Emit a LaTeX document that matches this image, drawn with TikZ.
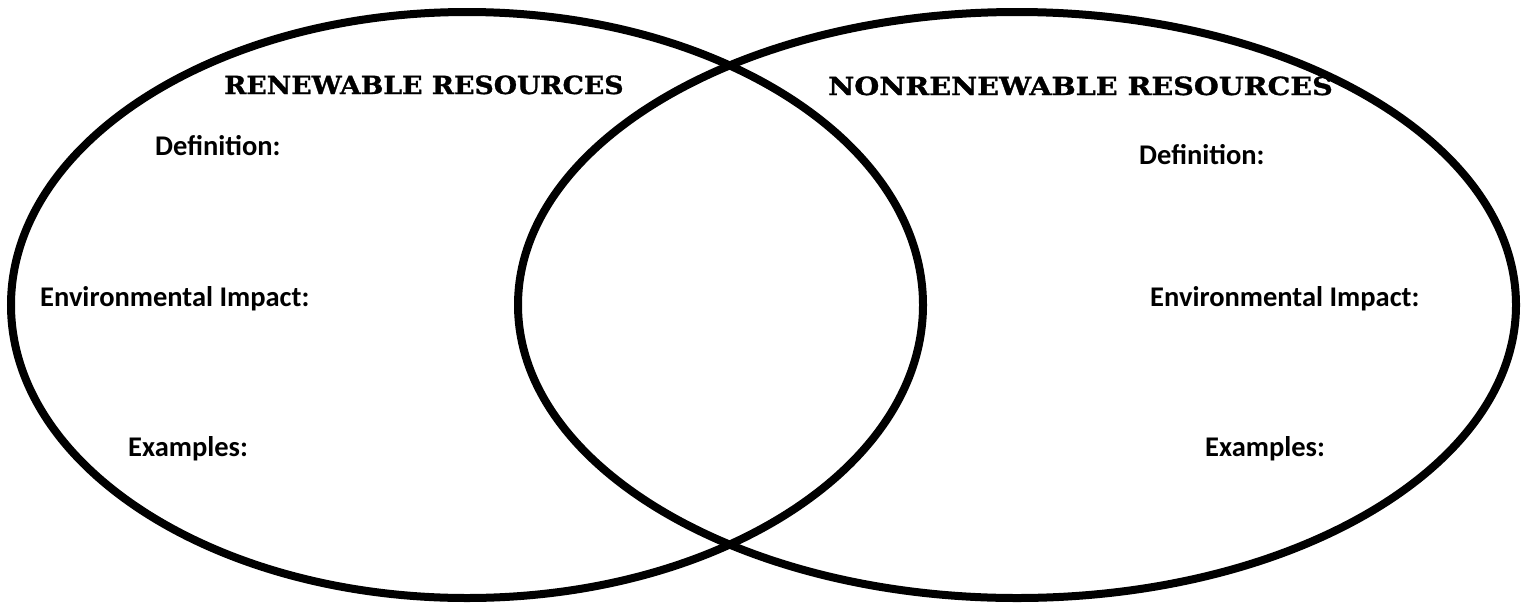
\documentclass[tikz,border=0pt]{standalone}
\usepackage{fontspec}
\newfontfamily\headfont[FakeStretch=1.07,FakeBold=1.2]{DejaVu Serif}
\newfontfamily\labfont{Carlito}
\begin{document}
\begin{tikzpicture}[x=1pt,y=-1pt,
  venn/.style={draw=black,line width=8pt},
  head/.style={anchor=base west,inner sep=0pt,font=\headfont\bfseries\fontsize{25}{30}\selectfont},
  lab/.style={anchor=base west,inner sep=0pt,font=\labfont\bfseries\fontsize{28.5}{34}\selectfont}]
\useasboundingbox (0,0) rectangle (1530,603);
\draw[venn] (467,305) ellipse [x radius=456, y radius=293];
\draw[venn] (1017,305) ellipse [x radius=499, y radius=293];
\node[head] (h1) at (224,94) {RENEWABLE RESOURCES};
\node[head] (h2) at (828,95) {\scalebox{1.07}[1]{NONRENEWABLE RESOURCES}};
\node[lab] (d1) at (155,155) {Definition:};
\node[lab] (e1) at (40,306) {Environmental Impact:};
\node[lab] (x1) at (128,456) {Examples:};
\node[lab] (d2) at (1139,164) {Definition:};
\node[lab] (e2) at (1150,306) {Environmental Impact:};
\node[lab] (x2) at (1205,456) {Examples:};
\end{tikzpicture}
\end{document}
